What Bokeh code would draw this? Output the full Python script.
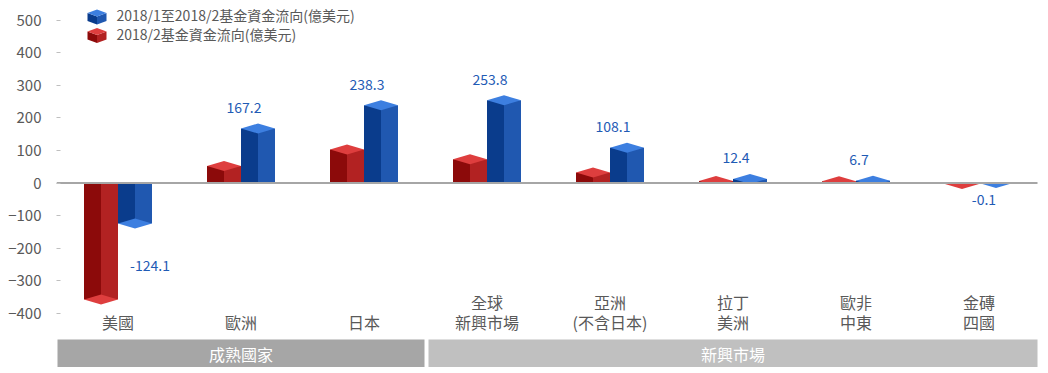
from bokeh.plotting import figure
from bokeh.models import Range1d, FixedTicker, Span
from bokeh.core.properties import value
from bokeh.embed import file_html
from bokeh.resources import INLINE

# ---------------- data ----------------
categories = ["美國", "歐洲", "日本", "全球\n新興市場", "亞洲\n(不含日本)", "拉丁\n美洲", "歐非\n中東", "金磚\n四國"]
flow_jan_feb = [-124.1, 167.2, 238.3, 253.8, 108.1, 12.4, 6.7, -0.1]   # blue
flow_feb = [-357, 52, 103, 73, 32, 6, 5, -3]                          # red
series_names = ["2018/1至2018/2基金資金流向(億美元)", "2018/2基金資金流向(億美元)"]
y_ticks = [-400, -300, -200, -100, 0, 100, 200, 300, 400, 500]
group_names = ["成熟國家", "新興市場"]
group_first = [0, 3]
group_last = [2, 7]

# ---------------- layout constants ----------------
W, H = 1048, 373
FRAME_L, FRAME_R = 56, 1040
Y0_PX = 182.5          # pixel row of value 0
PX_PER_100 = 32.6
PX_PER_CAT = (FRAME_R - FRAME_L) / len(categories)
FONT = value("Noto Sans CJK TC")

def py(pix):  # pixel row -> data y
    return (Y0_PX - pix) * 100.0 / PX_PER_100

def dx(pix):  # pixel width -> data x
    return pix / PX_PER_CAT

def px_x(pix):  # pixel column -> data x
    return -0.5 + (pix - FRAME_L) / PX_PER_CAT

p = figure(width=W, height=H, output_backend="svg", toolbar_location=None,
           x_range=Range1d(-0.5, len(categories) - 0.5),
           y_range=Range1d(py(H), py(0)),
           min_border_left=FRAME_L, min_border_right=W - FRAME_R,
           min_border_top=0, min_border_bottom=0)
p.outline_line_color = None
p.grid.visible = False
p.xaxis.visible = False
p.background_fill_color = "white"
p.border_fill_color = "white"

ya = p.yaxis[0]
ya.ticker = FixedTicker(ticks=y_ticks)
ya.axis_line_color = None
ya.major_tick_in = 4
ya.major_tick_out = 0
ya.major_tick_line_color = "#bfbfbf"
ya.minor_tick_line_color = None
ya.major_label_standoff = 15
ya.major_label_text_font = "Noto Sans CJK TC"
ya.major_label_text_font_size = "15px"
ya.major_label_text_color = "#595959"

# ---------------- 3D bars ----------------
BAR_W = dx(34)
DH = 5 * 100.0 / PX_PER_100   # half height of top rhombus in data units

red = ("#8c0a0a", "#b22222", "#de3e3e")
blue = ("#0a3c8c", "#2058b0", "#3d7fe0")

def clip(poly, positive):
    out = []
    n = len(poly)
    inside = (lambda q: q[1] >= 0) if positive else (lambda q: q[1] <= 0)
    for k in range(n):
        a, b = poly[k], poly[(k + 1) % n]
        ia, ib = inside(a), inside(b)
        if ia:
            out.append(a)
        if ia != ib:
            t = a[1] / (a[1] - b[1])
            out.append((a[0] + t * (b[0] - a[0]), 0.0))
    return out

fc_l, fc_r, fc_b, fc_t, fc_c = [], [], [], [], []
tops_x, tops_y, tops_c = [], [], []
for vals, cols, side in ((flow_feb, red, -1), (flow_jan_feb, blue, 0)):
    for i, v in enumerate(vals):
        left = i + (side * BAR_W)
        mid = left + BAR_W / 2
        right = left + BAR_W
        lo, hi = min(0, v), max(0, v)
        fc_l += [left, mid]; fc_r += [mid, right]
        fc_b += [lo, lo]; fc_t += [hi, hi]; fc_c += [cols[0], cols[1]]
        poly = [(left, v), (mid, v + DH), (right, v), (mid, v - DH)]
        poly = clip(poly, v >= 0)
        tops_x.append([q[0] for q in poly]); tops_y.append([q[1] for q in poly])
        tops_c.append(cols[2])

p.quad(left=fc_l, right=fc_r, bottom=fc_b, top=fc_t, fill_color=fc_c, line_color=None)
p.patches(xs=tops_x, ys=tops_y, fill_color=tops_c, line_color=None)

p.segment(x0=[-0.5], x1=[px_x(1037)], y0=[0], y1=[0], line_color="#a6a6a6", line_width=2)

# ---------------- value labels (blue series) ----------------
for i, v in enumerate(flow_jan_feb):
    if v >= 0:
        xo, yo = 3, -21
    elif v > -10:
        xo, yo = 5, 16
    else:
        xo, yo = 32, 42
    p.text(x=[i], y=[v], text=[f"{v:.1f}"], x_offset=xo, y_offset=yo,
           text_align="center", text_baseline="middle", text_font=FONT,
           text_font_size="14px", text_color="#1f5bb5")

# ---------------- category labels ----------------
l1x, l1t, l2x, l2t = [], [], [], []
for i, c in enumerate(categories):
    parts = c.split("\n")
    if len(parts) == 2:
        l1x.append(i); l1t.append(parts[0])
    l2x.append(i); l2t.append(parts[-1])
p.text(x=l1x, y=[py(301)] * len(l1x), text=l1t, text_align="center", text_baseline="middle",
       text_font=FONT, text_font_size="16px", text_color="#595959")
p.text(x=l2x, y=[py(321.5)] * len(l2x), text=l2t, text_align="center", text_baseline="middle",
       text_font=FONT, text_font_size="16px", text_color="#595959")

# ---------------- group boxes ----------------
g_cols = ["#a6a6a6", "#c0c0c0"]
gl = [f - 0.5 + dx(1 if k == 0 else 3) for k, f in enumerate(group_first)]
gr = [l + 0.5 - dx(1 if k == 0 else 3) for k, l in enumerate(group_last)]
p.quad(left=gl, right=gr, bottom=[py(366.5)] * 2, top=[py(339)] * 2, fill_color=g_cols, line_color=None)
p.text(x=[(a + b) / 2 for a, b in zip(gl, gr)], y=[py(353)] * 2, text=group_names,
       text_align="center", text_baseline="middle", text_font=FONT, text_font_size="16px",
       text_color="white")

# ---------------- legend (cube icons) ----------------
def cube(x0, ytop, cols):
    w, hd, hb = 19, 7, 15
    xm, x1 = x0 + w / 2, x0 + w
    yv, yf, yb = ytop + hd / 2, ytop + hd, ytop + hb
    left = [(x0, yv), (xm, yf), (xm, yb), (x0, yb - hd / 2)]
    right = [(xm, yf), (x1, yv), (x1, yb - hd / 2), (xm, yb)]
    top = [(x0, yv), (xm, ytop), (x1, yv), (xm, yf)]
    xs, ys = [], []
    for poly in (left, right, top):
        xs.append([px_x(a) for a, _ in poly]); ys.append([py(b) for _, b in poly])
    p.patches(xs=xs, ys=ys, fill_color=list(cols), line_color=None)

cube(87, 9, blue)
cube(87, 27.5, red)
p.text(x=[px_x(116)] * 2, y=[py(14), py(33)], text=series_names, text_align="left",
       text_baseline="middle", text_font=FONT, text_font_size="14px", text_color="#595959")

open("out.html", "w").write(file_html(p, INLINE))
